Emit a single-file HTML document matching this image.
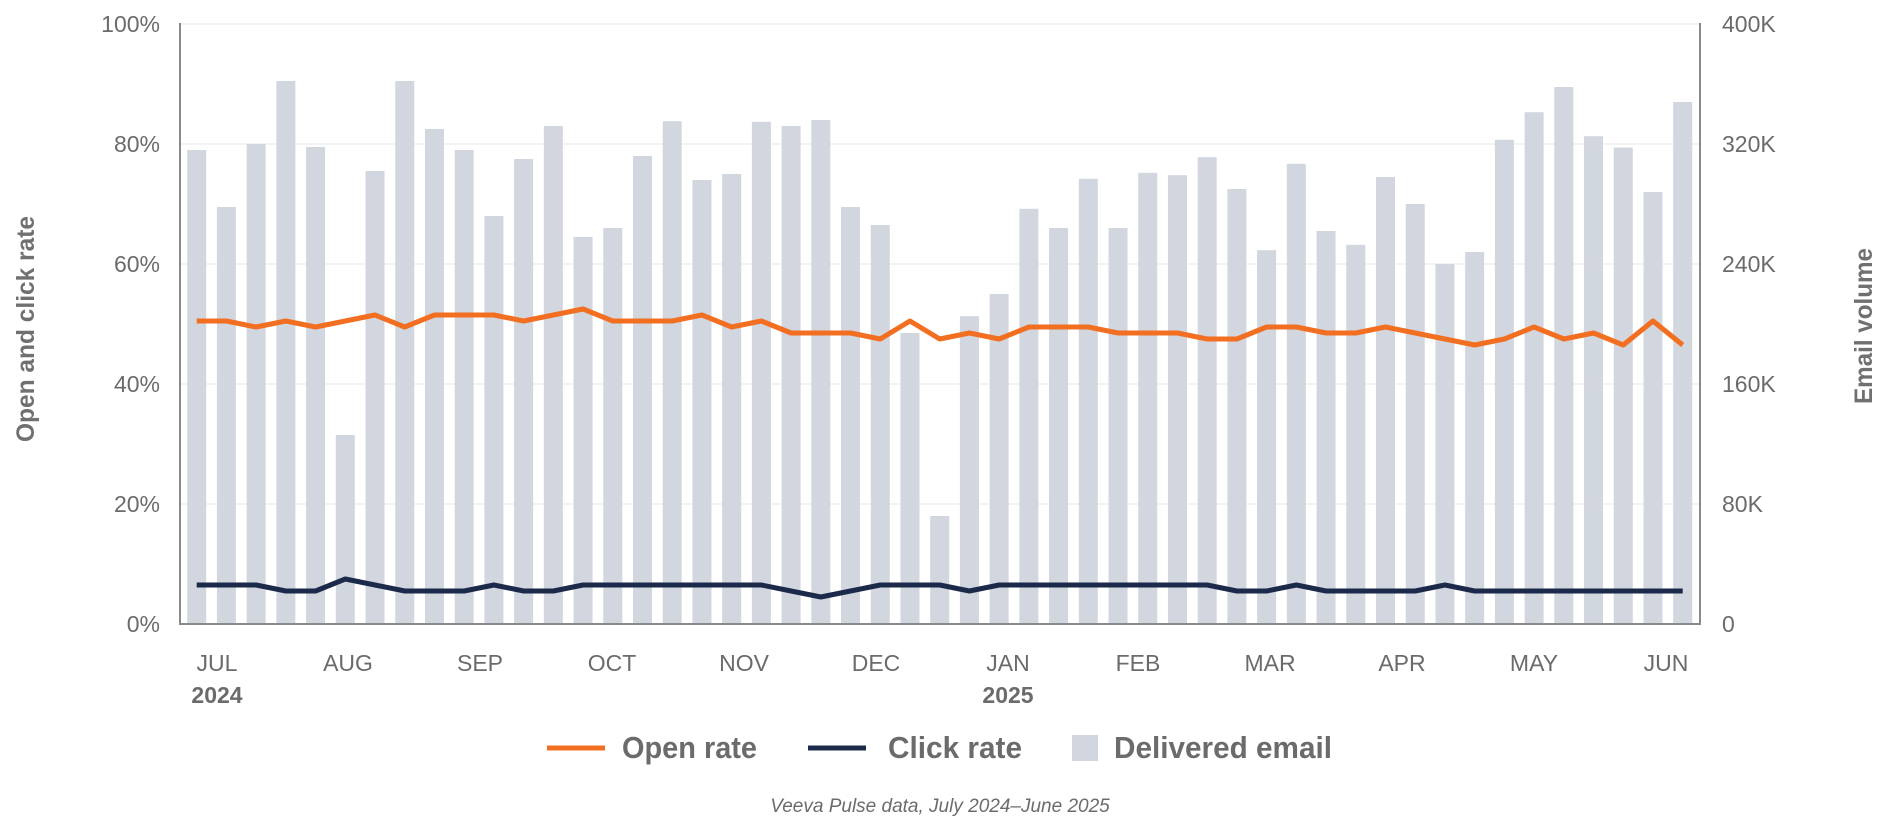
<!DOCTYPE html>
<html><head><meta charset="utf-8"><style>
html,body{margin:0;padding:0;background:#fff;}
svg{display:block;}
text{font-family:"Liberation Sans",sans-serif;}
.tk{font-size:23px;fill:#6b6b6b;}
.ttl{font-family:"Liberation Sans Narrow","Liberation Sans",sans-serif;font-weight:bold;font-size:25px;fill:#707070;}
.lg{font-family:"Liberation Sans Narrow","Liberation Sans",sans-serif;font-weight:bold;font-size:31px;fill:#6b6b6b;}
</style></head><body>
<svg id="c" width="1880" height="824" xmlns="http://www.w3.org/2000/svg">
<g id="grid"></g>
<g id="bars"></g>
<line x1="180" y1="23" x2="180" y2="624" stroke="#8a8a8a" stroke-width="2"/>
<line x1="1700" y1="23" x2="1700" y2="624" stroke="#8a8a8a" stroke-width="2"/>
<line x1="179" y1="624" x2="1701" y2="624" stroke="#8a8a8a" stroke-width="2"/>
<polyline id="open" fill="none" stroke="#f26f21" stroke-width="5" stroke-linejoin="round"/>
<polyline id="click" fill="none" stroke="#1b2a4a" stroke-width="5" stroke-linejoin="round"/>
<g class="tk" text-anchor="end">
<text x="160" y="32">100%</text><text x="160" y="152">80%</text><text x="160" y="272">60%</text>
<text x="160" y="392">40%</text><text x="160" y="512">20%</text><text x="160" y="632">0%</text>
</g>
<g class="tk" text-anchor="start">
<text x="1722" y="32">400K</text><text x="1722" y="152">320K</text><text x="1722" y="272">240K</text>
<text x="1722" y="392">160K</text><text x="1722" y="512">80K</text><text x="1722" y="632">0</text>
</g>
<g class="tk" text-anchor="middle">
<text x="217" y="671">JUL</text><text x="348" y="671">AUG</text><text x="480" y="671">SEP</text>
<text x="612" y="671">OCT</text><text x="744" y="671">NOV</text><text x="876" y="671">DEC</text>
<text x="1008" y="671">JAN</text><text x="1138" y="671">FEB</text><text x="1270" y="671">MAR</text>
<text x="1402" y="671">APR</text><text x="1534" y="671">MAY</text><text x="1666" y="671">JUN</text>
<text x="217" y="703" font-weight="bold">2024</text><text x="1008" y="703" font-weight="bold">2025</text>
</g>
<text class="ttl" transform="translate(34,442) rotate(-90)" textLength="226" lengthAdjust="spacingAndGlyphs">Open and click rate</text>
<text class="ttl" transform="translate(1872,404) rotate(-90)" textLength="156" lengthAdjust="spacingAndGlyphs">Email volume</text>
<line x1="547" y1="748" x2="605" y2="748" stroke="#f26f21" stroke-width="5"/>
<text class="lg" x="622" y="758" textLength="135" lengthAdjust="spacingAndGlyphs">Open rate</text>
<line x1="808" y1="748" x2="866" y2="748" stroke="#1b2a4a" stroke-width="5"/>
<text class="lg" x="888" y="758" textLength="134" lengthAdjust="spacingAndGlyphs">Click rate</text>
<rect x="1072" y="735" width="26" height="26" fill="#d1d6df"/>
<text class="lg" x="1114" y="758" textLength="218" lengthAdjust="spacingAndGlyphs">Delivered email</text>
<text x="940" y="812" text-anchor="middle" font-style="italic" font-size="19" fill="#6b6b6b" font-family="Liberation Sans Narrow, Liberation Sans, sans-serif">Veeva Pulse data, July 2024–June 2025</text>
</svg>
<script>
var NS="http://www.w3.org/2000/svg";
var bars=[79,69.5,80,90.5,79.5,31.5,75.5,90.5,82.5,79,68,77.5,83,64.5,66,78,83.8,74,75,83.7,83,84,69.5,66.5,48.5,18,51.3,55,69.2,66,74.2,66,75.2,74.8,77.8,72.5,62.3,76.7,65.5,63.2,74.5,70,60,62,80.7,85.3,89.5,81.3,79.4,72,87];
var open=[50.5,50.5,49.5,50.5,49.5,50.5,51.5,49.5,51.5,51.5,51.5,50.5,51.5,52.5,50.5,50.5,50.5,51.5,49.5,50.5,48.5,48.5,48.5,47.5,50.5,47.5,48.5,47.5,49.5,49.5,49.5,48.5,48.5,48.5,47.5,47.5,49.5,49.5,48.5,48.5,49.5,48.5,47.5,46.5,47.5,49.5,47.5,48.5,46.5,50.5,46.5];
var click=[];
for(var i=0;i<51;i++){var v=5.5;
if(i<3)v=6.5;else if(i==5)v=7.5;else if(i==6)v=6.5;else if(i==10)v=6.5;else if(i>=13&&i<=19)v=6.5;else if(i==21)v=4.5;else if(i>=23&&i<=25)v=6.5;else if(i>=27&&i<=34)v=6.5;else if(i==37)v=6.5;else if(i==42)v=6.5;
click.push(v);}
function X(i){return 196.7+i*29.72;}
function Y(v){return 624-v*6;}
var g=document.getElementById("grid");
for(var k=1;k<=5;k++){var l=document.createElementNS(NS,"line");l.setAttribute("x1",181);l.setAttribute("x2",1699);l.setAttribute("y1",Y(k*20));l.setAttribute("y2",Y(k*20));l.setAttribute("stroke","#efefef");l.setAttribute("stroke-width",1.5);g.appendChild(l);}
var b=document.getElementById("bars");
bars.forEach(function(v,i){var r=document.createElementNS(NS,"rect");r.setAttribute("x",X(i)-9.5);r.setAttribute("width",19);r.setAttribute("y",Y(v));r.setAttribute("height",v*6);r.setAttribute("fill","#d1d6df");b.appendChild(r);});
document.getElementById("open").setAttribute("points",open.map(function(v,i){return X(i)+","+Y(v);}).join(" "));
document.getElementById("click").setAttribute("points",click.map(function(v,i){return X(i)+","+Y(v);}).join(" "));
</script>
</body></html>
